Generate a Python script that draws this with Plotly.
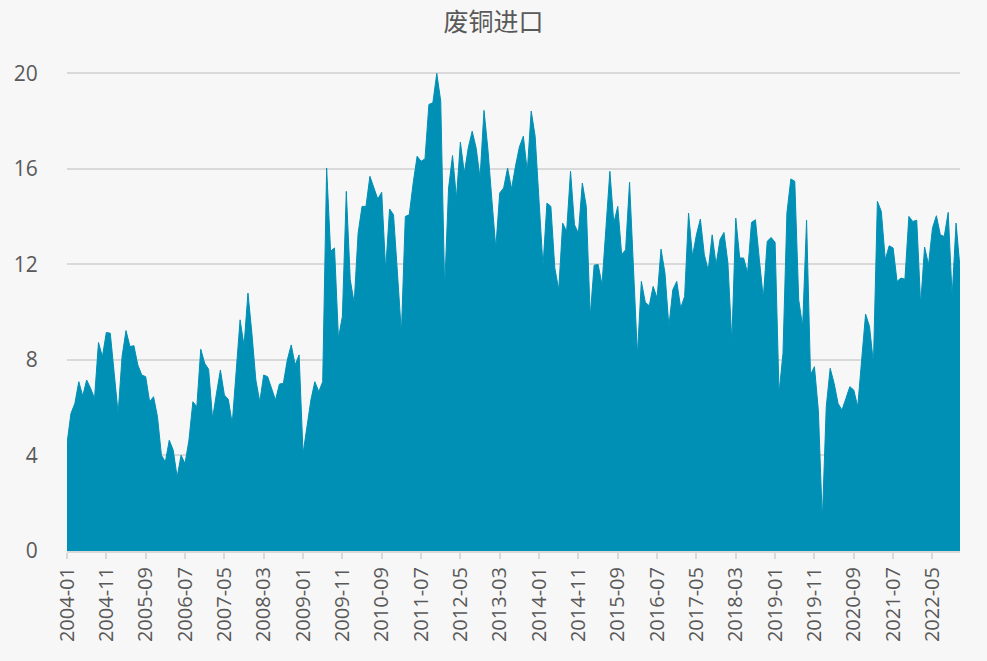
import plotly.graph_objects as go
import pandas as pd

# monthly scrap copper imports, 2004-01 .. 2022-12
months = pd.date_range("2004-01-01", "2022-12-01", freq="MS").strftime("%Y-%m").tolist()

values = [
    4.5, 5.76, 6.18, 7.09, 6.49, 7.16, 6.81, 6.39, 8.73, 8.14,
    9.15, 9.12, 7.44, 5.76, 8.14, 9.23, 8.56, 8.6, 7.79, 7.37,
    7.3, 6.25, 6.46, 5.62, 4.01, 3.73, 4.64, 4.22, 3.1, 4.01,
    3.66, 4.64, 6.25, 6.04, 8.45, 7.86, 7.61, 5.55, 6.6, 7.58,
    6.53, 6.35, 5.34, 7.58, 9.68, 8.59, 10.8, 9.12, 7.16, 6.25,
    7.37, 7.3, 6.81, 6.32, 6.99, 7.02, 8.0, 8.63, 7.79, 8.21,
    4.08, 5.2, 6.32, 7.09, 6.67, 7.09, 16.04, 12.55, 12.69, 8.91,
    9.82, 15.06, 11.36, 10.38, 13.31, 14.43, 14.43, 15.69, 15.2, 14.74,
    15.02, 11.78, 14.32, 14.08, 11.64, 9.12, 14.01, 14.08, 15.41, 16.53,
    16.32, 16.42, 18.7, 18.77, 20.0, 18.84, 11.0, 15.2, 16.56, 14.78,
    17.12, 15.83, 16.88, 17.58, 16.88, 15.62, 18.45, 16.81, 14.71, 12.69,
    14.99, 15.2, 16.04, 15.16, 16.11, 16.92, 17.37, 15.9, 18.42, 17.37,
    14.64, 11.92, 14.57, 14.43, 11.85, 10.94, 13.73, 13.38, 15.9, 13.66,
    13.31, 15.41, 14.43, 9.82, 11.97, 12.0, 11.15, 13.45, 15.9, 13.73,
    14.43, 12.41, 12.62, 15.44, 11.92, 8.21, 11.29, 10.41, 10.27, 11.08,
    10.59, 12.64, 11.64, 9.4, 10.94, 11.29, 10.17, 10.66, 14.15, 12.34,
    13.24, 13.9, 12.41, 11.75, 13.24, 11.99, 13.04, 13.34, 12.06, 8.77,
    13.94, 12.27, 12.27, 11.64, 13.76, 13.87, 12.2, 10.59, 12.97, 13.13,
    12.92, 6.6, 8.27, 14.15, 15.58, 15.48, 10.52, 9.4, 13.85, 7.38,
    7.72, 5.87, 1.29, 6.04, 7.65, 7.02, 6.18, 5.9, 6.39, 6.88,
    6.74, 6.04, 8.0, 9.92, 9.4, 7.86, 14.64, 14.22, 12.2, 12.78,
    12.69, 11.29, 11.43, 11.38, 14.01, 13.8, 13.85, 10.31, 12.73, 11.99,
    13.52, 14.04, 13.24, 13.17, 14.18, 10.66, 13.73, 11.85,
]

tick_labels = months[::10]

fig = go.Figure()
fig.add_trace(go.Scatter(
    x=months,
    y=values,
    mode="lines",
    fill="tozeroy",
    fillcolor="#0090B5",
    line=dict(color="#0090B5", width=1),
    hoverinfo="x+y",
    showlegend=False,
))

fig.update_layout(
    width=987,
    height=661,
    paper_bgcolor="#F7F7F7",
    plot_bgcolor="#F7F7F7",
    margin=dict(l=67, r=27, t=71, b=110),
    title=dict(
        text="废铜进口",
        x=0.5,
        xanchor="center",
        y=0.967,
        yanchor="middle",
        font=dict(family="Noto Sans CJK SC", size=25, color="#595959"),
    ),
    xaxis=dict(
        type="category",
        range=[0, len(months) - 1],
        tickmode="array",
        tickvals=tick_labels,
        ticktext=tick_labels,
        tickangle=-90,
        ticks="outside",
        ticklen=6,
        tickcolor="#D9D9D9",
        tickwidth=2,
        showgrid=False,
        showline=True,
        linecolor="#D9D9D9",
        linewidth=2,
        tickfont=dict(family="Open Sans", size=20, color="#595959"),
    ),
    yaxis=dict(
        range=[0, 20.1],
        tickvals=[0, 4, 8, 12, 16, 20],
        showgrid=True,
        gridcolor="#D9D9D9",
        gridwidth=2,
        zeroline=False,
        ticks="outside",
        ticklen=24,
        tickcolor="rgba(0,0,0,0)",
        tickfont=dict(family="Open Sans", size=21, color="#595959"),
    ),
)

fig.write_html(
    "out.html",
    config={"displayModeBar": False},
    post_script="document.body.style.margin='0';",
)
